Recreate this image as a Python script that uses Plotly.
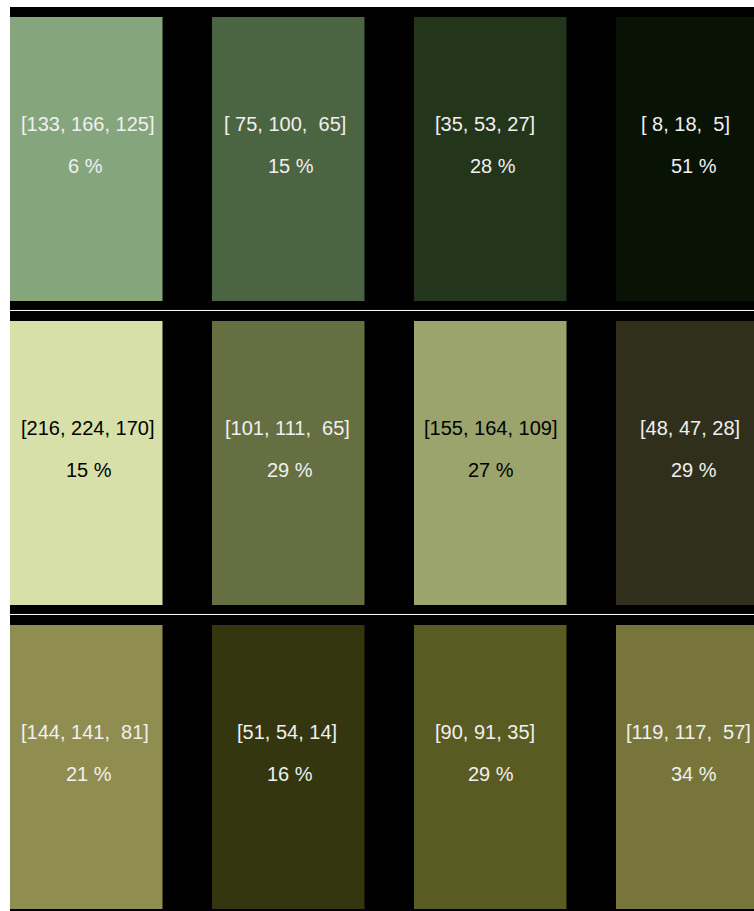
import plotly.graph_objects as go

# ---- data ----
row1_rgb = [[133, 166, 125], [75, 100, 65], [35, 53, 27], [8, 18, 5]]
row1_pct = [6, 15, 28, 51]
row2_rgb = [[216, 224, 170], [101, 111, 65], [155, 164, 109], [48, 47, 28]]
row2_pct = [15, 29, 27, 29]
row3_rgb = [[144, 141, 81], [51, 54, 14], [90, 91, 35], [119, 117, 57]]
row3_pct = [21, 16, 29, 34]

rows_rgb = [row1_rgb, row2_rgb, row3_rgb]
rows_pct = [row1_pct, row2_pct, row3_pct]

# ---- styles ----
LIGHT = "#f0f0f0"
DARK = "#000000"
text_colors = [
    [LIGHT, LIGHT, LIGHT, LIGHT],
    [DARK, LIGHT, DARK, LIGHT],
    [LIGHT, LIGHT, LIGHT, LIGHT],
]
# small horizontal text offsets (px) observed in the original rendering
label_dx = [
    [1, -3, -5, -7],
    [1, -1, 0, -2],
    [-1, -1, -5, -4],
]
pct_dx = [
    [-1, 3, 3, 2],
    [3, 2, 1, 2],
    [3, 2, 1, 2],
]


def fmt(rgb):
    w = max(len(str(v)) for v in rgb)
    return "[" + ", ".join(str(v).rjust(w) for v in rgb) + "]"


BAR_W = 0.755
BAR_H = 0.934
COL_PX = 202.0
ROW_PX = 304.0
FONT = "Liberation Sans, Arial"

fig = go.Figure()
xs, bases, hs, cols = [], [], [], []
for r, (rgbs, pcts) in enumerate(zip(rows_rgb, rows_pct)):
    for c, rgb in enumerate(rgbs):
        xs.append(c)
        bases.append(r - BAR_H / 2)
        hs.append(BAR_H)
        cols.append("rgb(%d,%d,%d)" % tuple(rgb))
        tc = text_colors[r][c]
        fig.add_annotation(x=c, y=r, text=fmt(rgb), showarrow=False, yshift=35,
                           xshift=label_dx[r][c],
                           font=dict(color=tc, size=20, family=FONT))
        fig.add_annotation(x=c, y=r, text="%d %%" % pcts[c], showarrow=False, yshift=-7,
                           xshift=pct_dx[r][c],
                           font=dict(color=tc, size=20, family=FONT))

fig.add_trace(go.Bar(x=xs, y=hs, base=bases, width=BAR_W, marker=dict(color=cols, line=dict(width=0)),
                     hoverinfo="skip", showlegend=False))

for yy in [0.5, 1.5]:
    yl = yy - 0.5 / ROW_PX
    fig.add_shape(type="line", xref="paper", x0=0, x1=1, y0=yl, y1=yl,
                  line=dict(color="white", width=1))

W, H = 754, 911
ML, MT = 10, 7
plot_w = W - ML
plot_h = H - MT
x0 = -BAR_W / 2
y0 = -BAR_H / 2 - 10 / ROW_PX
fig.update_layout(
    width=W, height=H,
    margin=dict(l=ML, r=0, t=MT, b=0),
    paper_bgcolor="white", plot_bgcolor="black",
    barmode="overlay",
    hovermode=False,
    xaxis=dict(range=[x0, x0 + plot_w / COL_PX], visible=False, showgrid=False, zeroline=False),
    yaxis=dict(range=[y0 + plot_h / ROW_PX, y0], visible=False, showgrid=False, zeroline=False),
)

fig.write_html("out.html", config={"displayModeBar": False, "staticPlot": True},
               post_script="document.body.style.margin='0';document.body.style.overflow='hidden';")
